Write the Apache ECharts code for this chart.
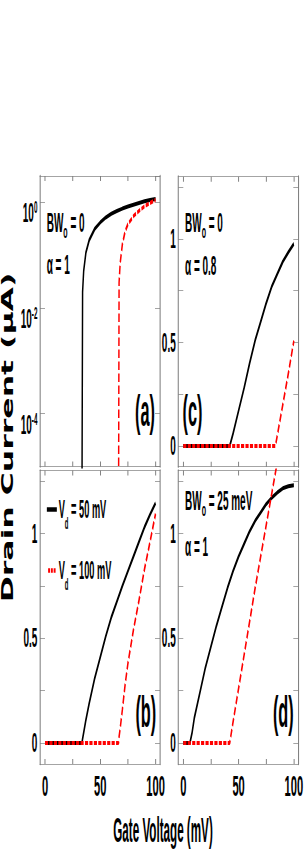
<!DOCTYPE html>
<html>
<head>
<meta charset="utf-8">
<script src="https://cdn.jsdelivr.net/npm/echarts@6/dist/echarts.min.js"></script>
<style>
html, body { margin: 0; padding: 0; background: #fff; overflow: hidden; width: 308px; height: 850px; }
#wrap { width: 308px; height: 850px; overflow: hidden; position: relative; }
#chart { width: 832px; height: 850px; position: absolute; left: 0; top: 0; transform: scaleX(0.370192); transform-origin: 0 0; }
</style>
</head>
<body>
<div id="wrap"><div id="chart"></div></div>
<script>
// ---------- data (gate voltage in mV, drain current in uA) ----------
const seriesNames = ['V_d = 50 mV', 'V_d = 100 mV'];

// panels (a) and (b): BWo = 0, alpha = 1
const vgBlackAB = [0, 33.4, 34, 35, 37, 40, 45, 50, 55, 60, 65, 70, 75, 80, 85, 90, 95, 100];
const idBlackAB = [0, 0, 0.02, 0.05, 0.11, 0.19, 0.31, 0.41, 0.51, 0.6, 0.675, 0.75, 0.82, 0.89, 0.96, 1.03, 1.09, 1.145];
const vgRedAB = [0, 66.5, 67, 68, 70, 72.5, 75, 80, 85, 90, 95, 100];
const idRedAB = [0, 0, 0.03, 0.07, 0.16, 0.28, 0.38, 0.54, 0.68, 0.83, 0.96, 1.094];

// panel (c): BWo = 0, alpha = 0.8
const vgBlackC = [0, 42, 45, 50, 55, 60, 65, 70, 75, 80, 85, 90, 95, 100];
const idBlackC = [0, 0, 0.06, 0.17, 0.28, 0.4, 0.51, 0.6, 0.69, 0.77, 0.83, 0.89, 0.935, 0.976];
const vgRedC = [0, 83.3, 85, 90, 95, 100];
const idRedC = [0, 0, 0.05, 0.2, 0.35, 0.508];

// panel (d): BWo = 25 meV, alpha = 1
const vgBlackD = [0, 6, 8, 10, 15, 20, 25, 30, 35, 40, 45, 50, 55, 60, 65, 70, 75, 80, 85, 90, 95, 100];
const idBlackD = [0, 0, 0.05, 0.12, 0.24, 0.36, 0.46, 0.56, 0.65, 0.74, 0.82, 0.89, 0.95, 1.01, 1.06, 1.1, 1.14, 1.17, 1.195, 1.215, 1.225, 1.23];
const vgRedD = [0, 42, 45, 50, 55, 60, 65, 70, 75, 80, 85];
const idRedD = [0, 0, 0.1, 0.26, 0.42, 0.58, 0.74, 0.89, 1.04, 1.19, 1.34];

// tick values
const gateTicks = [0, 25, 50, 75, 100];
const gateLabels = [0, 50, 100];
const currentTicks = [0, 0.25, 0.5, 0.75, 1, 1.25];
const currentLabels = [0, 0.5, 1];

// ---------- layout / style ----------
const S = 308 / 832;              // horizontal squeeze of the whole figure
const FONT = "'Liberation Sans', Arial, sans-serif";
const GRAY = '#7a7a7a';
const LOG_FLOOR = 1e-6;           // zero current drawn below the log axis floor

function pairs(xs, ys, log) {
  return xs.map((x, k) => [x, log ? (ys[k] > 0 ? ys[k] : LOG_FLOOR) : ys[k]]);
}

const panels = [
  { grid: { left: 40 / S, top: 176, width: 120 / S, height: 290.5 }, log: true,  xLab: false, ymin: 1e-5, ymax: 3.1, black: [vgBlackAB, idBlackAB], red: [vgRedAB, idRedAB] },
  { grid: { left: 40 / S, top: 470.5, width: 120 / S, height: 293.5 }, log: false, xLab: true, ymin: -0.1, ymax: 1.3, black: [vgBlackAB, idBlackAB], red: [vgRedAB, idRedAB] },
  { grid: { left: 178.3 / S, top: 176.7, width: 120 / S, height: 290 }, log: false, xLab: false, ymin: -0.1, ymax: 1.3, black: [vgBlackC, idBlackC], red: [vgRedC, idRedC] },
  { grid: { left: 178.3 / S, top: 470.5, width: 120 / S, height: 293.5 }, log: false, xLab: true, ymin: -0.1, ymax: 1.3, black: [vgBlackD, idBlackD], red: [vgRedD, idRedD] }
];

const grids = [], xAxes = [], yAxes = [], series = [];
const n = panels.length;

function xAxisFor(i, pos, showLabel) {
  return {
    type: 'value', gridIndex: i, position: pos, min: -4.5, max: 104,
    axisLine: { show: true, onZero: false, lineStyle: { color: GRAY, width: 1 } },
    axisTick: { show: true, inside: true, length: 5, customValues: gateTicks, lineStyle: { color: GRAY, width: 2.5 } },
    axisLabel: { show: showLabel, customValues: gateLabels, fontSize: 30, fontWeight: 'bold', fontFamily: FONT, color: '#000', margin: 7 },
    splitLine: { show: false }
  };
}

function yAxisFor(i, p, pos, showLabel) {
  const common = {
    gridIndex: i, position: pos, min: p.ymin, max: p.ymax,
    axisLine: { show: true, onZero: false, lineStyle: { color: GRAY, width: 2.7 } },
    splitLine: { show: false }
  };
  if (p.log) {
    return Object.assign(common, {
      type: 'log', logBase: 100,
      axisTick: { show: true, inside: true, length: 13.5, lineStyle: { color: GRAY, width: 1 } },
      axisLabel: {
        show: showLabel, showMinLabel: false, showMaxLabel: false, margin: 7,
        formatter: function (v) {
          const e = Math.log10(v);
          if (Math.abs(e - Math.round(e)) > 1e-6) return '';
          return '{b|10}{s|' + Math.round(e) + '}';
        },
        rich: {
          b: { fontSize: 27, fontWeight: 'bold', fontFamily: FONT, color: '#000', padding: [22, 0, 0, 0] },
          s: { fontSize: 17, fontWeight: 'bold', fontFamily: FONT, color: '#000', padding: [11, 0, 0, 0] }
        }
      }
    });
  }
  return Object.assign(common, {
    type: 'value',
    axisTick: { show: true, inside: true, length: 13.5, customValues: currentTicks, lineStyle: { color: GRAY, width: 1 } },
    axisLabel: { show: showLabel, customValues: currentLabels, fontSize: 27, fontWeight: 'bold', fontFamily: FONT, color: '#000', margin: 7, padding: [8, 0, 0, 0] }
  });
}

panels.forEach((p, i) => {
  grids.push(p.grid);
  xAxes[i] = xAxisFor(i, 'bottom', p.xLab);
  xAxes[n + i] = xAxisFor(i, 'top', false);
  yAxes[i] = yAxisFor(i, p, 'left', true);
  yAxes[n + i] = yAxisFor(i, p, 'right', false);
  series.push({
    type: 'line', name: seriesNames[0], xAxisIndex: i, yAxisIndex: i,
    data: pairs(p.black[0], p.black[1], p.log), symbol: 'none', z: 2,
    lineStyle: { color: '#000', width: 4 }, itemStyle: { color: '#000' }
  });
  series.push({
    type: 'line', name: seriesNames[1], xAxisIndex: i, yAxisIndex: i,
    data: pairs(p.red[0], p.red[1], p.log), symbol: 'none', z: 3,
    lineStyle: { color: '#ff0000', width: 4, type: [8.5, 3.5] }, itemStyle: { color: '#ff0000' }
  });
});

function note(xr, yr, text, size, subPad) {
  return {
    type: 'text', x: xr / S, y: yr, z: 10,
    style: {
      text: text, fill: '#000', align: 'left', verticalAlign: 'middle',
      font: 'bold ' + size + 'px ' + FONT,
      rich: { o: { fontSize: 19, fontWeight: 'bold', fontFamily: FONT, fill: '#000', padding: [subPad, 0, 0, 0] } }
    }
  };
}
function tag(xr, yr, text) {
  return {
    type: 'text', x: xr / S, y: yr, z: 10,
    style: { text: text, fill: '#000', align: 'center', verticalAlign: 'middle', font: 'bold 44px ' + FONT }
  };
}

const graphics = [
  note(46.7, 222.5, 'BW{o|o} = 0', 27, 17),
  note(46.7, 265, 'α = 1', 27, 0),
  note(185, 222.5, 'BW{o|o} = 0', 27, 17),
  note(185, 266, 'α = 0.8', 27, 0),
  note(185, 501, 'BW{o|o} = 25 meV', 27, 17),
  note(185, 546.7, 'α = 1', 27, 0),
  tag(145, 411, '(a)'),
  tag(192.5, 411, '(c)'),
  tag(145.8, 711.5, '(b)'),
  tag(283.3, 712, '(d)'),
  {
    type: 'text', x: 7.5 / S, y: 437.5, rotation: Math.PI / 2, scaleY: 1.3, z: 10,
    style: { text: 'Drain Current (μA)', fill: '#000', align: 'center', verticalAlign: 'middle', font: 'bold 31.5px "DejaVu Sans"' }
  },
  {
    type: 'text', x: 163 / S, y: 830, scaleX: 0.9, z: 10,
    style: { text: 'Gate Voltage (mV)', fill: '#000', align: 'center', verticalAlign: 'middle', font: 'bold 35px ' + FONT }
  }
];

const chart = echarts.init(document.getElementById('chart'), null, { renderer: 'svg' });
chart.setOption({
  animation: false,
  backgroundColor: '#fff',
  grid: grids,
  xAxis: xAxes,
  yAxis: yAxes,
  legend: {
    data: [
      { name: seriesNames[0], icon: 'rect', itemStyle: { color: '#000' } },
      { name: seriesNames[1], icon: 'path://M0,0h7v6h-7zM10,0h7v6h-7zM20,0h7v6h-7z', itemStyle: { color: '#ff0000' } }
    ],
    orient: 'vertical', left: 45 / S, top: 492, itemGap: 26,
    itemWidth: 27, itemHeight: 4.5, selectedMode: false,
    formatter: function (name) { return name.replace('V_d', 'V{d|d}'); },
    textStyle: {
      fontFamily: FONT, fontWeight: 'bold', fontSize: 25, color: '#000',
      rich: { d: { fontFamily: FONT, fontWeight: 'bold', fontSize: 16, color: '#000', padding: [29, 0, 0, 0] } }
    }
  },
  graphic: graphics,
  series: series
});
</script>
</body>
</html>
